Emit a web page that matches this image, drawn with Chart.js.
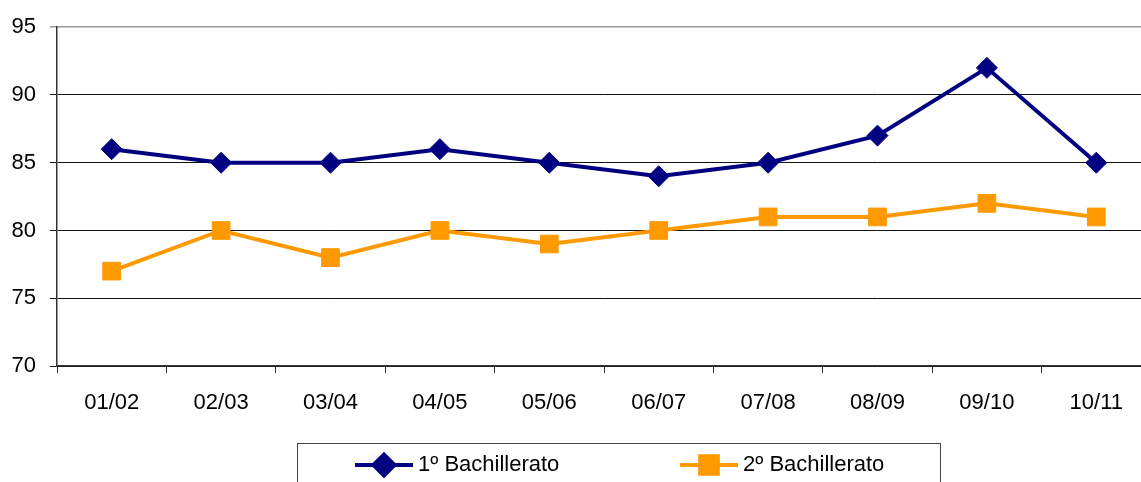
<!DOCTYPE html>
<html>
<head>
<meta charset="utf-8">
<script src="https://cdn.jsdelivr.net/npm/chart.js@4/dist/chart.umd.min.js"></script>
<style>
  html, body { margin: 0; padding: 0; background: #fff; overflow: hidden; }
  #wrap { width: 1141px; height: 482px; overflow: hidden; }
  #chart-line { display: block; }
</style>
</head>
<body>
<!-- the plot runs past the right edge in the original, so the canvas is a bit wider than the window -->
<div id="wrap"><canvas id="chart-line" width="1151" height="482"></canvas></div>
<script>
var categories = ["01/02", "02/03", "03/04", "04/05", "05/06", "06/07", "07/08", "08/09", "09/10", "10/11"];
var bach1 = [86, 85, 85, 86, 85, 84, 85, 87, 92, 85];
var bach2 = [77, 80, 78, 80, 79, 80, 81, 81, 82, 81];
var yTicks = [70, 75, 80, 85, 90, 95];

var FONT = "'Liberation Sans', Arial, sans-serif";

// legend drawn in a box under the axis, like the spreadsheet original
var boxLegend = {
  id: "boxLegend",
  afterDraw: function(chart) {
    var ctx = chart.ctx;
    ctx.save();
    ctx.strokeStyle = "#444";
    ctx.lineWidth = 1;
    ctx.strokeRect(297.5, 443.5, 643, 45);
    var items = [
      { x: 355, textX: 418 },
      { x: 680, textX: 743 }
    ];
    chart.data.datasets.forEach(function(ds, i) {
      var it = items[i];
      var y = 465;
      ctx.strokeStyle = ds.borderColor;
      ctx.lineWidth = 4;
      ctx.beginPath();
      ctx.moveTo(it.x, y);
      ctx.lineTo(it.x + 58, y);
      ctx.stroke();
      ctx.fillStyle = ds.pointBackgroundColor;
      ctx.strokeStyle = ds.pointBorderColor;
      Chart.helpers.drawPoint(ctx, {
        pointStyle: ds.pointStyle,
        radius: ds.pointRadius,
        borderWidth: 1,
        rotation: 0
      }, it.x + 29, y);
      ctx.fillStyle = "#000";
      ctx.font = "22px " + FONT;
      ctx.textBaseline = "middle";
      ctx.textAlign = "left";
      ctx.fillText(ds.label, it.textX, y);
    });
    ctx.restore();
  }
};

var ctx = document.getElementById("chart-line").getContext("2d");
var chartLine = new Chart(ctx, {
  type: "line",
  plugins: [boxLegend],
  data: {
    labels: categories,
    datasets: [{
      label: "1º Bachillerato",
      data: bach1,
      borderColor: "#000080",
      backgroundColor: "#000080",
      pointBackgroundColor: "#000080",
      pointBorderColor: "#000080",
      borderWidth: 4,
      pointStyle: "rectRot",
      pointRadius: 10.5,
      pointHoverRadius: 10.5,
      pointBorderWidth: 1,
      tension: 0
    }, {
      label: "2º Bachillerato",
      data: bach2,
      borderColor: "#FF9900",
      backgroundColor: "#FF9900",
      pointBackgroundColor: "#FF9900",
      pointBorderColor: "#FF9900",
      borderWidth: 4,
      pointStyle: "rect",
      pointRadius: 12.5,
      pointHoverRadius: 12.5,
      pointBorderWidth: 1,
      tension: 0
    }]
  },
  options: {
    responsive: false,
    animation: false,
    layout: { autoPadding: false, padding: { top: 26, right: 0, bottom: 0, left: 0 } },
    plugins: {
      legend: { display: false },
      tooltip: { enabled: false }
    },
    scales: {
      x: {
        offset: true,
        afterFit: function(scale) {
          scale.height = 116;
          scale.paddingLeft = 0;
          scale.paddingRight = 0;
        },
        grid: {
          offset: true,
          drawOnChartArea: false,
          drawTicks: true,
          tickLength: 7,
          color: "#333",
          lineWidth: 1
        },
        border: { color: "#333", width: 1.5 },
        ticks: {
          color: "#000",
          padding: 17,
          maxRotation: 0,
          font: { family: FONT, size: 22 }
        }
      },
      y: {
        min: 70,
        max: 95,
        afterFit: function(scale) { scale.width = 57; },
        afterBuildTicks: function(scale) {
          scale.ticks = yTicks.map(function(v) { return { value: v }; });
        },
        grid: {
          color: function(c) { return c.tick && c.tick.value === 95 ? "#999" : "#111"; },
          lineWidth: function(c) { return c.tick && c.tick.value === 95 ? 1.5 : 1; },
          tickLength: 7
        },
        border: { color: "#333", width: 1.5 },
        ticks: {
          color: "#000",
          padding: 14,
          font: { family: FONT, size: 22 }
        }
      }
    }
  }
});
</script>
</body>
</html>
